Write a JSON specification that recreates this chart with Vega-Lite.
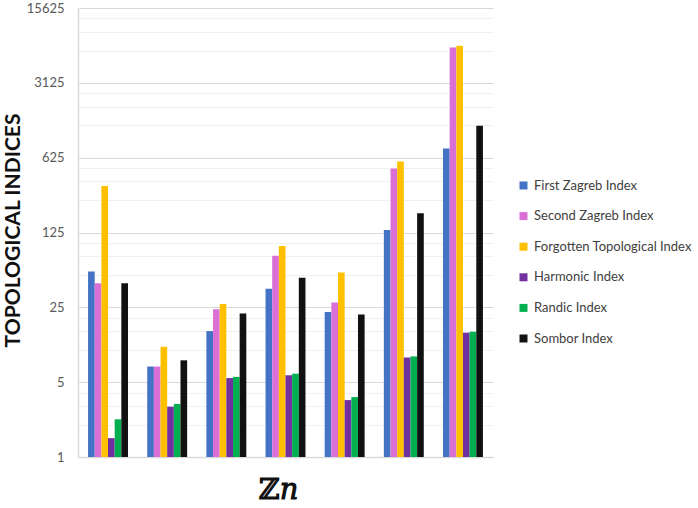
{
  "$schema": "https://vega.github.io/schema/vega-lite/v6.json",
  "width": 415,
  "height": 449,
  "autosize": {"type": "none"},
  "padding": {"left": 78, "top": 8, "right": 205, "bottom": 51},
  "background": "white",
  "config": {"view": {"stroke": null}, "font": "Lato"},
  "data": {"values": [
    {"g": "G1", "idx": "First Zagreb Index", "v": 54},
    {"g": "G1", "idx": "Second Zagreb Index", "v": 42},
    {"g": "G1", "idx": "Forgotten Topological Index", "v": 340},
    {"g": "G1", "idx": "Harmonic Index", "v": 1.5},
    {"g": "G1", "idx": "Randic Index", "v": 2.25},
    {"g": "G1", "idx": "Sombor Index", "v": 42},
    {"g": "G2", "idx": "First Zagreb Index", "v": 7},
    {"g": "G2", "idx": "Second Zagreb Index", "v": 7},
    {"g": "G2", "idx": "Forgotten Topological Index", "v": 10.7},
    {"g": "G2", "idx": "Harmonic Index", "v": 2.95},
    {"g": "G2", "idx": "Randic Index", "v": 3.13},
    {"g": "G2", "idx": "Sombor Index", "v": 8},
    {"g": "G3", "idx": "First Zagreb Index", "v": 15},
    {"g": "G3", "idx": "Second Zagreb Index", "v": 24},
    {"g": "G3", "idx": "Forgotten Topological Index", "v": 26.8},
    {"g": "G3", "idx": "Harmonic Index", "v": 5.46},
    {"g": "G3", "idx": "Randic Index", "v": 5.6},
    {"g": "G3", "idx": "Sombor Index", "v": 21.9},
    {"g": "G4", "idx": "First Zagreb Index", "v": 37.3},
    {"g": "G4", "idx": "Second Zagreb Index", "v": 75.8},
    {"g": "G4", "idx": "Forgotten Topological Index", "v": 93.5},
    {"g": "G4", "idx": "Harmonic Index", "v": 5.8},
    {"g": "G4", "idx": "Randic Index", "v": 6},
    {"g": "G4", "idx": "Sombor Index", "v": 47.2},
    {"g": "G5", "idx": "First Zagreb Index", "v": 22.6},
    {"g": "G5", "idx": "Second Zagreb Index", "v": 27.8},
    {"g": "G5", "idx": "Forgotten Topological Index", "v": 53},
    {"g": "G5", "idx": "Harmonic Index", "v": 3.4},
    {"g": "G5", "idx": "Randic Index", "v": 3.63},
    {"g": "G5", "idx": "Sombor Index", "v": 21.4},
    {"g": "G6", "idx": "First Zagreb Index", "v": 132},
    {"g": "G6", "idx": "Second Zagreb Index", "v": 496},
    {"g": "G6", "idx": "Forgotten Topological Index", "v": 576},
    {"g": "G6", "idx": "Harmonic Index", "v": 8.5},
    {"g": "G6", "idx": "Randic Index", "v": 8.7},
    {"g": "G6", "idx": "Sombor Index", "v": 189},
    {"g": "G7", "idx": "First Zagreb Index", "v": 763},
    {"g": "G7", "idx": "Second Zagreb Index", "v": 6690},
    {"g": "G7", "idx": "Forgotten Topological Index", "v": 6930},
    {"g": "G7", "idx": "Harmonic Index", "v": 14.5},
    {"g": "G7", "idx": "Randic Index", "v": 14.8},
    {"g": "G7", "idx": "Sombor Index", "v": 1241}
  ]},
  "mark": {"type": "bar"},
  "encoding": {
    "x": {
      "field": "g", "type": "nominal", "sort": null,
      "scale": {"paddingInner": 0.325, "paddingOuter": 0.17},
      "axis": {
        "labels": false, "ticks": false, "domain": true, "domainColor": "#d9d9d9", "domainWidth": 1.5,
        "title": "ℤ𝑛", "titleFont": "DejaVu Serif", "titleFontSize": 29, "titleFontWeight": "bold",
        "titleColor": "#111111", "titleX": 200, "titleY": 41, "titleBaseline": "alphabetic", "titleAnchor": "middle"
      }
    },
    "xOffset": {
      "field": "idx", "type": "nominal",
      "sort": ["First Zagreb Index", "Second Zagreb Index", "Forgotten Topological Index", "Harmonic Index", "Randic Index", "Sombor Index"],
      "scale": {"paddingInner": 0, "paddingOuter": 0}
    },
    "y": {
      "field": "v", "type": "quantitative", "stack": null,
      "scale": {"type": "log", "base": 5, "domain": [1, 15625], "nice": false},
      "axis": {
        "values": [1, 2, 3, 4, 5, 10, 15, 20, 25, 50, 75, 100, 125, 250, 375, 500, 625, 1250, 1875, 2500, 3125, 6250, 9375, 12500, 15625],
        "labelExpr": "indexof([1,5,25,125,625,3125,15625], datum.value) >= 0 ? datum.value + '' : ''",
        "grid": true,
        "gridColor": {"condition": {"test": "indexof([1,5,25,125,625,3125,15625], datum.value) >= 0", "value": "#d9d9d9"}, "value": "#f0f0f0"},
        "gridWidth": 1.2,
        "ticks": false, "domain": true, "domainColor": "#d9d9d9", "domainWidth": 1.5,
        "labelFontSize": 13, "labelColor": "#595959", "labelPadding": 14, "labelFont": "Lato",
        "title": "TOPOLOGICAL INDICES", "titleFontSize": 21, "titleFontWeight": "bold", "titleColor": "#111111",
        "titleFont": "Lato", "titleX": -65, "titleY": 222, "titleAngle": 270, "titleAlign": "center", "titleBaseline": "middle"
      }
    },
    "color": {
      "field": "idx", "type": "nominal",
      "scale": {
        "domain": ["First Zagreb Index", "Second Zagreb Index", "Forgotten Topological Index", "Harmonic Index", "Randic Index", "Sombor Index"],
        "range": ["#4472C4", "#DA70D6", "#FFC000", "#7030A0", "#00B050", "#111111"]
      },
      "legend": {
        "title": null, "orient": "none", "legendX": 439, "legendY": 171,
        "symbolType": "square", "symbolSize": 64, "symbolStrokeWidth": 0,
        "labelFontSize": 13, "labelColor": "#404040", "labelFont": "Lato", "labelOffset": 4,
        "rowPadding": 16.6
      }
    }
  }
}
